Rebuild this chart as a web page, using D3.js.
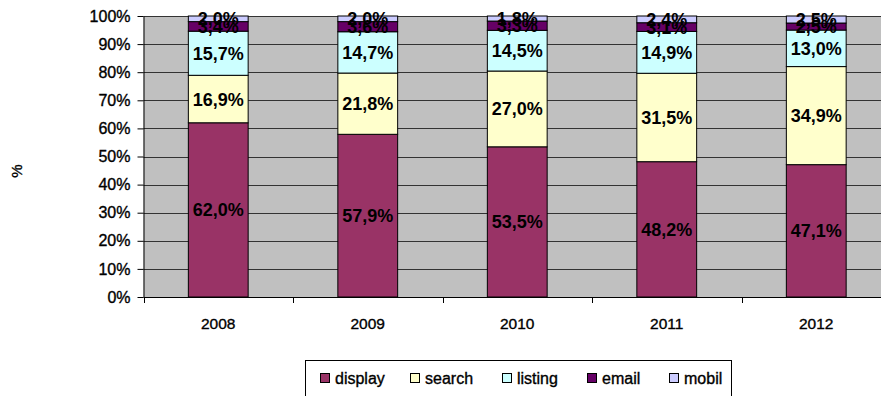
<!DOCTYPE html>
<html>
<head>
<meta charset="utf-8">
<script src="https://cdn.jsdelivr.net/npm/d3@7"></script>
<style>
  html, body { margin: 0; padding: 0; background: #fff; }
  svg { display: block; font-family: "Liberation Sans", Arial, sans-serif; }
  .heavy { stroke: #000; stroke-width: 0.35px; }
</style>
</head>
<body>
<svg id="chart" width="881" height="396"></svg>
<script>
// Online ad spend share by channel, 100% stacked
const years = ["2008", "2009", "2010", "2011", "2012"];
const seriesNames = ["display", "search", "listing", "email", "mobil"];
const display = [62.0, 57.9, 53.5, 48.2, 47.1];
const search  = [16.9, 21.8, 27.0, 31.5, 34.9];
const listing = [15.7, 14.7, 14.5, 14.9, 13.0];
const email   = [3.4, 3.6, 3.3, 3.1, 2.5];
const mobil   = [2.0, 2.0, 1.8, 2.4, 2.5];
const yTicks = [0, 10, 20, 30, 40, 50, 60, 70, 80, 90, 100];
const colors = ["#993366", "#FFFFCC", "#CCFFFF", "#660066", "#CCCCFF"];

const values = [display, search, listing, email, mobil];
const rows = years.map((y, i) => {
  const r = { year: y };
  seriesNames.forEach((s, k) => { r[s] = values[k][i]; });
  return r;
});

const svg = d3.select("#chart");
const plot = { left: 143.5, top: 16, bottom: 297, right: 891 };

const x = d3.scaleBand().domain(years).range([plot.left, plot.right]).paddingInner(0.6).paddingOuter(0.3);
const xCat = d3.scaleBand().domain(years).range([plot.left, plot.right]);
const y = d3.scaleLinear().domain([0, 100]).range([plot.bottom, plot.top]);

// plot background
svg.append("rect")
  .attr("x", plot.left).attr("y", plot.top)
  .attr("width", plot.right - plot.left).attr("height", plot.bottom - plot.top)
  .attr("fill", "#C0C0C0");

// horizontal gridlines
svg.append("g").selectAll("line").data(yTicks.slice(1)).join("line")
  .attr("x1", plot.left).attr("x2", plot.right)
  .attr("y1", d => Math.round(y(d)) + 0.5).attr("y2", d => Math.round(y(d)) + 0.5)
  .attr("stroke", "#333").attr("stroke-width", 1);

// stacked segments
const stack = d3.stack().keys(seriesNames).offset(d3.stackOffsetExpand);
const layers = stack(rows);

const g = svg.append("g");
layers.forEach((layer, k) => {
  g.selectAll(null).data(layer).join("rect")
    .attr("x", d => x(d.data.year))
    .attr("width", x.bandwidth())
    .attr("y", d => y(d[1] * 100))
    .attr("height", d => y(d[0] * 100) - y(d[1] * 100))
    .attr("fill", colors[k])
    .attr("stroke", "#000")
    .attr("stroke-width", 1);
});

// value labels centred in each segment
layers.forEach((layer, k) => {
  g.selectAll(null).data(layer).join("text")
    .attr("x", d => x(d.data.year) + x.bandwidth() / 2)
    .attr("y", d => y((d[0] + d[1]) / 2 * 100))
    .attr("dy", "0.36em")
    .attr("text-anchor", "middle")
    .attr("font-size", 18)
    .attr("font-weight", "bold")
    .attr("fill", "#000")
    .text(d => d.data[layer.key].toFixed(1).replace(".", ",") + "%");
});

// y axis
const yAxis = d3.axisLeft(y).tickValues(yTicks).tickFormat(d => d + "%").tickSize(6).tickSizeOuter(0);
const ya = svg.append("g").attr("transform", `translate(${plot.left},0)`).call(yAxis);
ya.select(".domain").attr("stroke", "#000");
ya.selectAll(".tick line").attr("stroke", "#000");
ya.selectAll(".tick text")
  .attr("class", "heavy")
  .attr("font-size", 16).attr("font-family", "Liberation Sans, Arial, sans-serif")
  .attr("fill", "#000").attr("x", -13);

// x axis: ticks at category boundaries
svg.append("line")
  .attr("x1", plot.left).attr("x2", plot.right)
  .attr("y1", plot.bottom + 0.5).attr("y2", plot.bottom + 0.5)
  .attr("stroke", "#000");
const bounds = years.map(d => xCat(d)).concat([plot.right]);
svg.append("g").selectAll("line").data(bounds).join("line")
  .attr("x1", d => Math.round(d) + 0.5).attr("x2", d => Math.round(d) + 0.5)
  .attr("y1", plot.bottom).attr("y2", plot.bottom + 6)
  .attr("stroke", "#000");
svg.append("g").selectAll("text").data(years).join("text")
  .attr("class", "heavy")
  .attr("x", d => xCat(d) + xCat.bandwidth() / 2)
  .attr("y", 329)
  .attr("text-anchor", "middle")
  .attr("font-size", 15.5)
  .attr("fill", "#000")
  .text(d => d);

// axis title
svg.append("text")
  .attr("class", "heavy")
  .attr("transform", "translate(22,171) rotate(-90)")
  .attr("text-anchor", "middle")
  .attr("font-size", 15)
  .text("%");

// legend
const legend = svg.append("g");
legend.append("rect")
  .attr("x", 305.5).attr("y", 360.5).attr("width", 426).attr("height", 40)
  .attr("fill", "#fff").attr("stroke", "#000");
const legendX = [320, 410, 502, 587, 669];
seriesNames.forEach((s, k) => {
  legend.append("rect")
    .attr("x", legendX[k] + 0.5).attr("y", 373.5).attr("width", 9).attr("height", 9)
    .attr("fill", colors[k]).attr("stroke", "#000");
  legend.append("text")
    .attr("class", "heavy")
    .attr("x", legendX[k] + 15).attr("y", 384)
    .attr("font-size", 16)
    .text(s);
});
</script>
</body>
</html>
